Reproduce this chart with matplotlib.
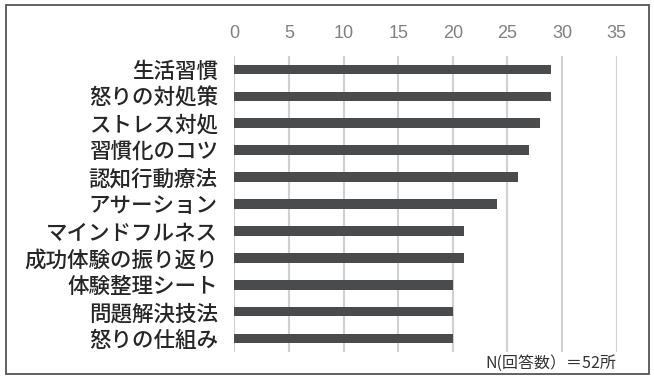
import matplotlib.pyplot as plt
from matplotlib.patches import Rectangle

plt.rcParams['font.family'] = ['Noto Sans CJK JP', 'DejaVu Sans']

# Data
categories = ['生活習慣', '怒りの対処策', 'ストレス対処', '習慣化のコツ', '認知行動療法',
              'アサーション', 'マインドフルネス', '成功体験の振り返り', '体験整理シート',
              '問題解決技法', '怒りの仕組み']
counts = [29, 29, 28, 27, 26, 24, 21, 21, 20, 20, 20]
xticks = [0, 5, 10, 15, 20, 25, 30, 35]
note = 'N(回答数）＝52所'

fig = plt.figure(figsize=(6.54, 3.83), dpi=100)
ax = fig.add_axes([0.3584, 0.081, 0.5846, 0.7728])

ypos = list(range(len(categories)))
ax.barh(ypos, counts, height=0.36, color='#4a4b4d', zorder=3)
ax.set_ylim(len(categories) - 0.5, -0.5)
ax.set_xlim(0, 35)

ax.set_xticks(xticks)
ax.xaxis.tick_top()
ax.set_xticklabels([str(t) for t in xticks], family=['Liberation Sans', 'DejaVu Sans'],
                   fontsize=13, color='#808080')
ax.set_yticks(ypos)
ax.set_yticklabels(categories, fontsize=15.5, color='#262626', fontweight='medium')
ax.tick_params(axis='x', length=0, pad=10)
ax.tick_params(axis='y', length=0, pad=12)

ax.grid(axis='x', color='#d0d0d0', linewidth=1.5, zorder=0)
for s in ax.spines.values():
    s.set_visible(False)

ax.text(1.0, -0.01, note, transform=ax.transAxes, ha='right', va='top',
        fontsize=11.5, color='#333333')

# outer frame
fig.patches.append(Rectangle((6 / 654, 1 - 374 / 383), 643 / 654, 369 / 383,
                             transform=fig.transFigure, fill=False,
                             edgecolor='#555555', linewidth=1.3))

fig.savefig('out.png', dpi=100)
